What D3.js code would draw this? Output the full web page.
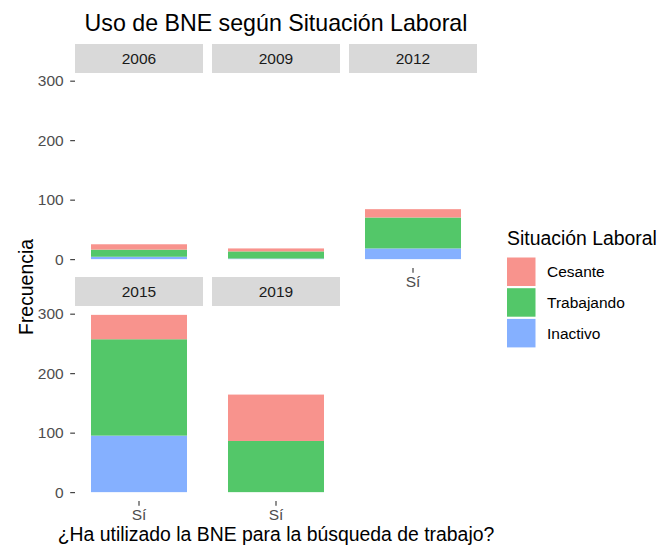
<!DOCTYPE html>
<html>
<head>
<meta charset="utf-8">
<script src="https://cdn.jsdelivr.net/npm/d3@7"></script>
<style>
  body { margin: 0; background: #fff; }
  svg { display: block; font-family: "Liberation Sans", Arial, sans-serif; }
</style>
</head>
<body>
<div id="chart"></div>
<script>
// data
const years = ['2006', '2009', '2012', '2015', '2019'];
const situaciones = ['Inactivo', 'Trabajando', 'Cesante'];   // stack order, bottom to top
const inactivo   = [4, 1, 18, 95, 0];
const trabajando = [12, 12, 52, 162, 86];
const cesante    = [9, 5, 14, 41, 78];
const yTicks = [0, 100, 200, 300];
const xCategory = 'Sí';
const legendOrder = ['Cesante', 'Trabajando', 'Inactivo'];

const colors = {
  Cesante: '#F8938D',
  Trabajando: '#53C769',
  Inactivo: '#85B0FF'
};

const rows = years.map((y, i) => ({
  year: y,
  Inactivo: inactivo[i],
  Trabajando: trabajando[i],
  Cesante: cesante[i]
}));

const W = 670, H = 550;
const panelLeft = 75, panelW = 128, gapX = 9;
const stripH = 29;
const rowTop = [44, 277];           // top of strips
const panelH = 195;

const svg = d3.select('#chart').append('svg')
  .attr('width', W).attr('height', H);

const stack = d3.stack().keys(situaciones);
const series = stack(rows);
const maxTotal = d3.max(rows, d => d.Inactivo + d.Trabajando + d.Cesante);

const y = d3.scaleLinear()
  .domain([-0.05 * maxTotal, 1.05 * maxTotal])
  .range([panelH, 0]);

const x = d3.scaleBand()
  .domain([xCategory])
  .range([0, panelW]);

// title
svg.append('text')
  .attr('x', panelLeft + (3 * panelW + 2 * gapX) / 2)
  .attr('y', 31)
  .attr('text-anchor', 'middle')
  .style('font-size', '23.2px')
  .style('fill', '#000')
  .text('Uso de BNE según Situación Laboral');

years.forEach((yr, i) => {
  const col = i % 3, row = Math.floor(i / 3);
  const px = panelLeft + col * (panelW + gapX);
  const py = rowTop[row] + stripH;

  const g = svg.append('g').attr('transform', `translate(${px},${py})`);

  // strip
  svg.append('rect')
    .attr('x', px).attr('y', rowTop[row])
    .attr('width', panelW).attr('height', stripH)
    .attr('fill', '#D9D9D9');
  svg.append('text')
    .attr('x', px + panelW / 2)
    .attr('y', rowTop[row] + stripH / 2 + 5.5)
    .attr('text-anchor', 'middle')
    .style('font-size', '15.5px')
    .style('fill', '#1A1A1A')
    .text(yr);

  // bars: 0.9 wide out of a 1.2 wide (expanded) discrete range
  const bw = x.bandwidth() * 0.75;
  const bx = x(xCategory) + (x.bandwidth() - bw) / 2;
  series.forEach(s => {
    const d = s[i];
    if (d[1] - d[0] <= 0) return;
    g.append('rect')
      .attr('x', bx)
      .attr('y', y(d[1]))
      .attr('width', bw)
      .attr('height', y(d[0]) - y(d[1]))
      .attr('fill', colors[s.key]);
  });

  // y axis on first column
  if (col === 0) {
    const ay = g.append('g').call(d3.axisLeft(y).tickValues(yTicks).tickSize(4.8).tickPadding(6.5));
    ay.select('.domain').remove();
    ay.selectAll('line').attr('stroke', '#333').attr('stroke-width', 1.1);
    ay.selectAll('text').style('font-size', '15.5px').style('fill', '#4D4D4D').attr('font-family', null);
  }

  // x axis where no panel below
  if (row === 1 || i === 2) {
    const ax = g.append('g')
      .attr('transform', `translate(0,${panelH})`)
      .call(d3.axisBottom(x).tickSize(4.8).tickPadding(3));
    ax.select('.domain').remove();
    ax.selectAll('line').attr('stroke', '#333').attr('stroke-width', 1.1);
    ax.selectAll('text').style('font-size', '15.5px').style('fill', '#4D4D4D').attr('font-family', null);
  }
});

// axis titles
svg.append('text')
  .attr('x', panelLeft + (3 * panelW + 2 * gapX) / 2)
  .attr('y', 541)
  .attr('text-anchor', 'middle')
  .style('font-size', '19.4px')
  .style('fill', '#000')
  .text('¿Ha utilizado la BNE para la búsqueda de trabajo?');

svg.append('text')
  .attr('transform', `translate(33,287) rotate(-90)`)
  .attr('text-anchor', 'middle')
  .style('font-size', '19.4px')
  .style('fill', '#000')
  .text('Frecuencia');

// legend
const lg = svg.append('g').attr('transform', 'translate(507,245)');
lg.append('text')
  .attr('x', 0).attr('y', 0)
  .style('font-size', '19.4px')
  .style('fill', '#000')
  .text('Situación Laboral');

const keySize = 28.5, keyStep = 30.7;
legendOrder.forEach((k, j) => {
  const ky = 12.5 + j * keyStep;
  lg.append('rect')
    .attr('x', 0).attr('y', ky)
    .attr('width', keySize).attr('height', keySize)
    .attr('fill', colors[k]);
  lg.append('text')
    .attr('x', 40).attr('y', ky + keySize / 2 + 5.5)
    .style('font-size', '15.5px')
    .style('fill', '#000')
    .text(k);
});
</script>
</body>
</html>
